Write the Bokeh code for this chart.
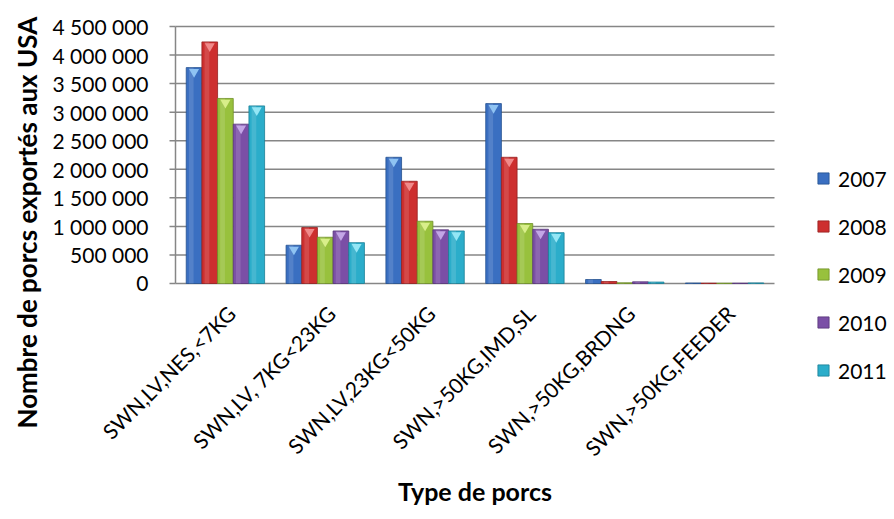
from math import pi

from bokeh.core.properties import value
from bokeh.embed import file_html
from bokeh.models import (BooleanFilter, CDSView, ColumnDataSource, Legend,
                          LegendItem, Range1d)
from bokeh.plotting import figure
from bokeh.resources import INLINE
from bokeh.transform import dodge

# Types of live swine exported to the USA
categories = [
    "SWN,LV,NES,<7KG",
    "SWN,LV, 7KG<23KG",
    "SWN,LV,23KG<50KG",
    "SWN,>50KG,IMD,SL",
    "SWN,>50KG,BRDNG",
    "SWN,>50KG,FEEDER",
]
years = ["2007", "2008", "2009", "2010", "2011"]

# Number of head exported per year and type
v2007 = [3780000, 670000, 2210000, 3150000, 70000, 8000]
v2008 = [4230000, 980000, 1790000, 2210000, 35000, 6000]
v2009 = [3240000, 810000, 1090000, 1050000, 12000, 5000]
v2010 = [2790000, 920000, 940000, 950000, 30000, 6000]
v2011 = [3110000, 715000, 920000, 890000, 25000, 10000]

y_ticks = [0, 500000, 1000000, 1500000, 2000000, 2500000, 3000000, 3500000, 4000000, 4500000]
y_tick_labels = ["0", "500 000", "1 000 000", "1 500 000", "2 000 000",
                 "2 500 000", "3 000 000", "3 500 000", "4 000 000", "4 500 000"]

y_title = "Nombre de porcs exportés aux USA"
x_title = "Type de porcs"

fills = ["#3a6fc1", "#cd2f2f", "#98c13d", "#7b4fa6", "#2badca"]
edges = ["#24508f", "#962020", "#6f8f26", "#573579", "#1b7f96"]
caps = ["#8fc3f2", "#f08a8a", "#d8ee8a", "#c3a6e6", "#94e6f5"]
GRID = "#868686"
FONT = value("Lato")

# canvas geometry (pixels): the whole canvas is the plotting frame
W, H = 894, 519
ORIGIN_X, ORIGIN_Y = 175, 283   # screen position of the value/category origin
TOP = 26                        # screen row of the highest grid line
PLOT_RIGHT = 774                # right end of the value grid

Y_MAX = 4500000
n_cat = len(categories)
px_per_cat = (PLOT_RIGHT - ORIGIN_X) / n_cat
units_per_px = Y_MAX / (ORIGIN_Y - TOP)

series = {"2007": v2007, "2008": v2008, "2009": v2009, "2010": v2010, "2011": v2011}
data = {"cat": categories, "xpos": [k + 0.5 for k in range(n_cat)], "zero": [0] * n_cat}
data.update(series)
source = ColumnDataSource(data)
ticks = ColumnDataSource({"y": y_ticks, "label": y_tick_labels, "x": [0] * len(y_ticks)})

p = figure(
    x_range=Range1d(-ORIGIN_X / px_per_cat, (W - ORIGIN_X) / px_per_cat),
    y_range=Range1d(-(H - ORIGIN_Y) * units_per_px, ORIGIN_Y * units_per_px),
    width=W, height=H, min_border=0, title=None,
    x_axis_location=None, y_axis_location=None,
    output_backend="svg", toolbar_location=None,
)
p.outline_line_color = None
p.background_fill_color = "white"
p.border_fill_color = "white"
p.xgrid.grid_line_color = None
p.ygrid.grid_line_color = None

# value grid, limited to the category span
p.segment(x0=0, x1=n_cat, y0="y", y1="y", source=ticks, line_color=GRID, line_width=1.5)
# value axis line and outward tick marks
p.segment(x0=0, x1=0, y0=0, y1=Y_MAX, line_color=GRID, line_width=1.5)
p.ray(x="x", y="y", length=6, length_units="screen", angle=pi, source=ticks,
      line_color=GRID, line_width=1.5)
p.text(x="x", y="y", text="label", source=ticks, x_offset=-27,
       text_align="right", text_baseline="middle",
       text_font=FONT, text_font_size="21px", text_color="black")

bar_w = 0.157
items = []
for i, yr in enumerate(years):
    off = (i - 2) * bar_w
    r = p.vbar(x=dodge("xpos", off), top=yr, width=bar_w,
               source=source, fill_color=fills[i], line_color=edges[i], line_width=0.8)
    # soft highlight along the left side of each bar
    p.vbar(x=dodge("xpos", off - bar_w * 0.18), top=yr, width=bar_w * 0.3,
           source=source, fill_color="white", fill_alpha=0.13, line_color=None)
    # bevel cap at the top of taller bars
    view = CDSView(filter=BooleanFilter([v > 8 * units_per_px for v in series[yr]]))
    p.scatter(x=dodge("xpos", off), y=dodge(yr, -4.3 * units_per_px),
              marker="inverted_triangle", size=10, source=source, view=view,
              fill_color=caps[i], line_color=None)
    items.append(LegendItem(label=yr, renderers=[r]))

# rotated category labels under the origin line
p.text(x="xpos", y="zero", text="cat", source=source, angle=pi / 4,
       text_align="right", text_baseline="middle", x_offset=6, y_offset=26,
       text_font=FONT, text_font_size="21px", text_color="black")

# axis titles
p.text(x=[n_cat / 2], y=[0], text=[x_title], text_align="center",
       text_baseline="middle", y_offset=207,
       text_font=FONT, text_font_style="bold", text_font_size="25px", text_color="black")
p.text(x=[0], y=[0], text=[y_title], angle=pi / 2, text_align="left",
       text_baseline="middle", x_offset=26 - ORIGIN_X, y_offset=145,
       text_font=FONT, text_font_style="bold", text_font_size="26px", text_color="black")

legend = Legend(items=items, location=(816, H - 384), orientation="vertical",
                glyph_width=14, glyph_height=14, label_height=28, spacing=20,
                padding=0, margin=0, label_standoff=8,
                label_text_font="Lato", label_text_font_size="21px",
                label_text_color="black",
                border_line_color=None, background_fill_alpha=0)
p.add_layout(legend, "center")

open("out.html", "w").write(file_html(p, INLINE))
